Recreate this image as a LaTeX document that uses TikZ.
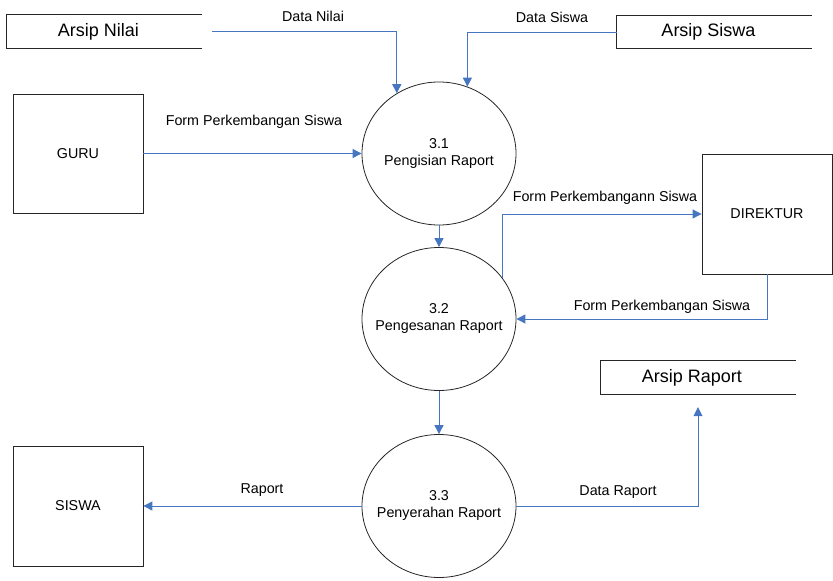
\documentclass[tikz,border=0pt]{standalone}
\usepackage{fontspec}
\setmainfont{Liberation Sans}
\usetikzlibrary{arrows.meta,shapes.geometric}
\definecolor{flowblue}{RGB}{70,118,192}
\newcommand{\proctext}[2]{\makebox[0pt][c]{\begin{tabular}{@{}c@{}}#1\\#2\end{tabular}}}
\begin{document}
\begin{tikzpicture}[x=1pt,y=-1pt,
  lbl/.style={inner sep=0pt, font=\fontsize{14.3}{17}\selectfont},
  proc/.style={draw=black!85, ellipse, minimum width=154pt, minimum height=143pt, inner sep=0pt, font=\fontsize{14.3}{17}\selectfont, line width=0.8pt},
  ext/.style={draw=black!85, rectangle, minimum width=130pt, minimum height=120pt, inner sep=0pt, font=\fontsize{14.3}{17}\selectfont, line width=0.8pt},
  store/.style={rectangle, minimum width=195pt, minimum height=33pt, inner sep=0pt, font=\fontsize{18}{21}\selectfont},
  storeline/.style={draw=black!85, line width=0.8pt},
  flow/.style={draw=flowblue, line width=0.9pt, -{Triangle[length=9pt,width=9pt]}}
]
\useasboundingbox (0,0) rectangle (833,581);

% data stores
\node[store] (an) at (104.5,31.5) {\hspace*{-12pt}Arsip Nilai};
\draw[storeline] (an.north east) -- (an.north west) -- (an.south west) -- (an.south east);
\node[store] (as) at (714.5,32) {\hspace*{-12pt}Arsip Siswa};
\draw[storeline] (as.north east) -- (as.north west) -- (as.south west) -- (as.south east);
\node[store] (ar) at (698,377.5) {\hspace*{-12pt}Arsip Raport};
\draw[storeline] (ar.north east) -- (ar.north west) -- (ar.south west) -- (ar.south east);

% processes
\node[proc] (p31) at (439,153.5) {\proctext{3.1}{Pengisian Raport}};
\node[proc] (p32) at (439,319) {\proctext{3.2}{Pengesanan Raport}};
\node[proc] (p33) at (439,506) {\proctext{3.3}{Penyerahan Raport}};

% external entities
\node[ext, minimum height=119pt] (guru) at (78,153.5) {GURU};
\node[ext] (dir) at (767,214) {DIREKTUR};
\node[ext] (siswa) at (78,506) {SISWA};

% flows
\draw[flow] ([xshift=10pt]an.east) -| (p31.125);
\draw[flow] (as.west) -| (p31.67);
\draw[flow] (guru.east) -- (p31.west);
\draw[flow] (p31.south) -- (p32.north);
\draw[flow] (p32.33) |- (dir.west);
\draw[flow] (dir.south) |- (p32.east);
\draw[flow] (p32.south) -- (p33.north);
\draw[flow] (p33.west) -- (siswa.east);
\draw[flow] (p33.east) -| ([yshift=-13pt]ar.south);

% flow labels
\node[lbl] (ldn) at (313,16) {Data Nilai};
\node[lbl] (lds) at (552,17) {Data Siswa};
\node[lbl] (lfg) at (254,122) {Form Perkembangan Siswa};
\node[lbl] (lfd) at (605,198) {Form Perkembangann Siswa};
\node[lbl] (lfb) at (662,307) {Form Perkembangan Siswa};
\node[lbl] (lrp) at (262,490) {Raport};
\node[lbl] (ldr) at (618,492) {Data Raport};
\end{tikzpicture}
\end{document}
